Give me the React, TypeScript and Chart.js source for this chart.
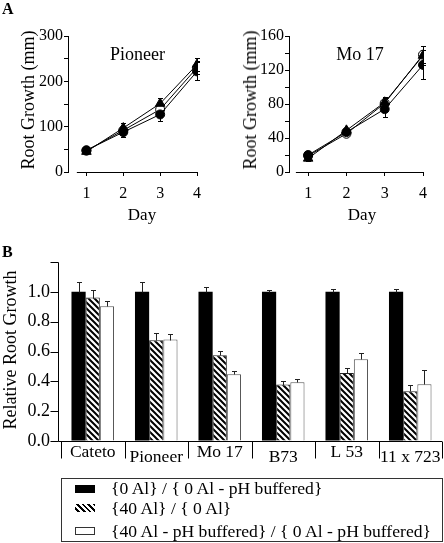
import React, { useEffect, useRef } from 'react';
import { Chart, registerables } from 'chart.js';

Chart.register(...registerables);

// ---------- data ----------
const DAYS = [1, 2, 3, 4];

const PIONEER_FILLED = [48, 88, 127, 222];
const PIONEER_FILLED_ERR = [5, 10, 15, 20];
const PIONEER_TRIANGLE = [45, 97, 151, 237];
const PIONEER_TRIANGLE_ERR = [4, 11, 12, 15];
const PIONEER_OPEN = [47, 92, 138, 230];
const PIONEER_OPEN_ERR = [4, 8, 10, 14];

const MO17_FILLED = [20, 47, 74, 126];
const MO17_FILLED_ERR = [3, 4, 9, 17];
const MO17_TRIANGLE = [16, 49, 82, 137];
const MO17_TRIANGLE_ERR = [3, 3, 6, 11];
const MO17_OPEN = [19, 45, 81, 138];
const MO17_OPEN_ERR = [3, 3, 6, 10];

const PIONEER_Y_MAX = 300;
const PIONEER_Y_STEP = 50;
const PIONEER_Y_LABEL_EVERY = 100;
const MO17_Y_MAX = 160;
const MO17_Y_STEP = 20;
const MO17_Y_LABEL_EVERY = 40;

const CULTIVARS = ['Cateto', 'Pioneer', 'Mo 17', 'B73', 'L 53', '11 x 723'];
const REL_0AL = [1, 1, 1, 1, 1, 1];
const REL_0AL_ERR = [0.067, 0.067, 0.034, 0.009, 0.022, 0.022];
const REL_40AL = [0.962, 0.676, 0.575, 0.378, 0.456, 0.333];
const REL_40AL_ERR = [0.05, 0.05, 0.03, 0.025, 0.034, 0.04];
const REL_40AL_PH = [0.904, 0.68, 0.447, 0.394, 0.548, 0.38];
const REL_40AL_PH_ERR = [0.035, 0.034, 0.02, 0.024, 0.042, 0.094];
const REL_Y_MAX = 1.2;
const REL_Y_STEP = 0.2;

const LEGEND_LABELS = [
  '{0 Al} / { 0 Al - pH buffered}',
  '{40 Al} / { 0 Al}',
  '{40 Al - pH buffered} / { 0 Al - pH buffered}',
];

const FONT = '"Liberation Serif", "Times New Roman", Times, serif';

// ---------- plugins ----------
function drawErrors(chart: any, opts: any) {
  const ctx = chart.ctx;
  const ys = chart.scales.y;
  const cap = opts.cap ?? 2.5;
  ctx.save();
  ctx.strokeStyle = opts.color || '#000';
  ctx.lineWidth = 1;
  chart.data.datasets.forEach((ds: any, i: number) => {
    const errs = ds.errors;
    if (!errs) return;
    const meta = chart.getDatasetMeta(i);
    meta.data.forEach((el: any, j: number) => {
      const raw = ds.data[j];
      const v = typeof raw === 'object' ? raw.y : raw;
      const e = errs[j];
      const x = Math.round(el.x) + 0.5;
      const top = Math.round(ys.getPixelForValue(v + e)) + 0.5;
      const bot = Math.round(ys.getPixelForValue(opts.upOnly ? v : v - e)) + 0.5;
      ctx.beginPath();
      ctx.moveTo(x, top);
      ctx.lineTo(x, bot);
      ctx.moveTo(x - cap, top);
      ctx.lineTo(x + cap, top);
      if (!opts.upOnly) {
        ctx.moveTo(x - cap, bot);
        ctx.lineTo(x + cap, bot);
      }
      ctx.stroke();
    });
  });
  ctx.restore();
}

const errorBarPlugin = {
  id: 'errorBars',
  beforeDatasetsDraw(chart: any, _a: any, opts: any) {
    if (opts && opts.layer === 'before') drawErrors(chart, opts);
  },
  afterDatasetsDraw(chart: any, _a: any, opts: any) {
    if (opts && opts.layer === 'after') drawErrors(chart, opts);
  },
};

const offsetXAxisPlugin = {
  id: 'offsetXAxis',
  afterDraw(chart: any, _a: any, opts: any) {
    const { ctx, chartArea } = chart;
    const xs = chart.scales.x;
    const yb = Math.round(chartArea.bottom) + 0.5;
    ctx.save();
    ctx.strokeStyle = '#000';
    ctx.lineWidth = 1;
    ctx.beginPath();
    ctx.moveTo(xs.getPixelForValue(opts.start), yb);
    ctx.lineTo(chartArea.right, yb);
    ctx.stroke();
    ctx.restore();
  },
};

const categoryFramePlugin = {
  id: 'categoryFrame',
  afterDraw(chart: any, _a: any, opts: any) {
    const { ctx, chartArea } = chart;
    const xs = chart.scales.x;
    const ys = chart.scales.y;
    const axisX = Math.round(chartArea.left - 3) + 0.5;
    const y0 = Math.round(ys.getPixelForValue(0)) + 0.5;
    const yTop = Math.round(ys.getPixelForValue(ys.max)) + 0.5;
    ctx.save();
    ctx.strokeStyle = '#000';
    ctx.lineWidth = 1;
    ctx.beginPath();
    ctx.moveTo(axisX, yTop);
    ctx.lineTo(axisX, y0);
    ys.ticks.forEach((t: any) => {
      const py = Math.round(ys.getPixelForValue(t.value)) + 0.5;
      ctx.moveTo(axisX - 8, py);
      ctx.lineTo(axisX, py);
    });
    ctx.moveTo(axisX, y0);
    ctx.lineTo(chartArea.right, y0);
    const labels = chart.data.labels;
    const n = labels.length;
    const w = (chartArea.right - chartArea.left) / n;
    for (let i = 0; i <= n; i++) {
      const px = Math.round(chartArea.left + i * w) + 0.5;
      ctx.moveTo(px, y0);
      ctx.lineTo(px, y0 + 17);
    }
    ctx.stroke();
    ctx.fillStyle = '#000';
    ctx.font = `${opts.size}px ${FONT}`;
    ctx.textAlign = 'center';
    ctx.textBaseline = 'middle';
    labels.forEach((lab: string, i: number) => {
      ctx.fillText(lab, xs.getPixelForValue(i), y0 + (i % 2 === 0 ? 10.5 : 16));
    });
    ctx.restore();
  },
};

function makeHatch(): any {
  const s = 6;
  const c = document.createElement('canvas');
  c.width = s;
  c.height = s;
  const g = c.getContext('2d')!;
  g.fillStyle = '#fff';
  g.fillRect(0, 0, s, s);
  g.strokeStyle = '#000';
  g.lineWidth = 2;
  g.beginPath();
  g.moveTo(-1, -1);
  g.lineTo(s + 1, s + 1);
  g.moveTo(-1, s - 1);
  g.lineTo(1, s + 1);
  g.moveTo(s - 1, -1);
  g.lineTo(s + 1, 1);
  g.stroke();
  return g.createPattern(c, 'repeat');
}

// ---------- configs ----------
function pts(arr: number[]) {
  return DAYS.map((d, i) => ({ x: d, y: arr[i] }));
}

function lineConfig(p: {
  filled: number[]; filledErr: number[];
  tri: number[]; triErr: number[];
  open: number[]; openErr: number[];
  yMax: number; yStep: number; labelEvery: number;
  yWidth: number; padRight: number; xStart: number;
}): any {
  const common = { borderColor: '#000', borderWidth: 1, pointBorderColor: '#000', pointBorderWidth: 1, tension: 0 };
  return {
    type: 'line',
    data: {
      datasets: [
        { ...common, data: pts(p.filled), errors: p.filledErr, pointStyle: 'circle', pointRadius: 4.5, pointBackgroundColor: '#000' },
        { ...common, data: pts(p.tri), errors: p.triErr, pointStyle: 'triangle', pointRadius: 5.5, pointBackgroundColor: '#000' },
        { ...common, data: pts(p.open), errors: p.openErr, pointStyle: 'circle', pointRadius: 4.5, pointBackgroundColor: '#fff' },
      ],
    },
    options: {
      responsive: false,
      animation: false,
      layout: { padding: { left: 0, top: 36, right: p.padRight, bottom: 3 } },
      plugins: {
        legend: { display: false },
        tooltip: { enabled: false },
        errorBars: { layer: 'before', upOnly: false, cap: 2.5, color: '#000' },
        offsetXAxis: { start: p.xStart },
      },
      scales: {
        x: {
          type: 'linear',
          min: 0.5,
          max: 4,
          afterBuildTicks: (s: any) => { s.ticks = DAYS.map((v) => ({ value: v })); },
          afterFit: (s: any) => { s.height = 30; },
          ticks: { padding: 8, color: '#000', font: { family: FONT, size: 16 }, autoSkip: false, maxRotation: 0 },
          grid: { drawOnChartArea: false, drawTicks: true, tickLength: 4, color: '#000' },
          border: { display: false },
        },
        y: {
          min: 0,
          max: p.yMax,
          afterFit: (s: any) => { s.width = p.yWidth; },
          ticks: {
            stepSize: p.yStep,
            autoSkip: false,
            padding: 1,
            color: '#000',
            font: { family: FONT, size: 16 },
            callback: (v: any) => (Math.round(v) % p.labelEvery === 0 ? String(v) : ''),
          },
          grid: { drawOnChartArea: false, drawTicks: true, tickLength: 4, color: '#000' },
          border: { display: true, color: '#000', width: 1 },
        },
      },
    },
    plugins: [errorBarPlugin, offsetXAxisPlugin],
  };
}

function barConfig(hatch: any): any {
  return {
    type: 'bar',
    data: {
      labels: CULTIVARS,
      datasets: [
        { label: LEGEND_LABELS[0], data: REL_0AL, errors: REL_0AL_ERR, backgroundColor: '#000', borderWidth: 0 },
        { label: LEGEND_LABELS[1], data: REL_40AL, errors: REL_40AL_ERR, backgroundColor: hatch, borderColor: '#222', borderWidth: 1 },
        { label: LEGEND_LABELS[2], data: REL_40AL_PH, errors: REL_40AL_PH_ERR, backgroundColor: '#fff', borderColor: '#555', borderWidth: 1 },
      ],
    },
    options: {
      responsive: false,
      animation: false,
      layout: { padding: { left: 0, top: 22, right: 2, bottom: 39 } },
      datasets: { bar: { barPercentage: 1, categoryPercentage: 0.67 } },
      plugins: {
        legend: { display: false },
        tooltip: { enabled: false },
        errorBars: { layer: 'after', upOnly: true, cap: 2.5, color: '#222' },
        categoryFrame: { size: 17.5 },
      },
      scales: {
        x: { type: 'category', display: false, offset: true },
        y: {
          min: 0,
          max: REL_Y_MAX,
          afterFit: (s: any) => { s.width = 61; },
          ticks: {
            stepSize: REL_Y_STEP,
            autoSkip: false,
            padding: 11,
            color: '#000',
            font: { family: FONT, size: 18 },
            callback: (v: any) => (v > 1.05 ? '' : Number(v).toFixed(1)),
          },
          grid: { display: true, drawOnChartArea: false, drawTicks: false },
          border: { display: false },
        },
      },
    },
    plugins: [errorBarPlugin, categoryFramePlugin],
  };
}

// ---------- components ----------
function Txt(props: { x: number; y: number; text: string; size?: number; bold?: boolean; rotate?: number; align?: 'center' | 'left' }) {
  const { x, y, text, size = 17, bold = false, rotate = 0, align = 'center' } = props;
  const tx = align === 'center' ? '-50%' : '0';
  return (
    <div
      style={{
        position: 'absolute',
        left: x,
        top: y,
        transform: `translate(${tx}, -50%) rotate(${rotate}deg)`,
        whiteSpace: 'nowrap',
        fontFamily: FONT,
        fontSize: size,
        fontWeight: bold ? 700 : 400,
        lineHeight: 1,
        color: '#000',
      }}
    >
      {text}
    </div>
  );
}

export default function App() {
  const a1 = useRef<HTMLCanvasElement>(null);
  const a2 = useRef<HTMLCanvasElement>(null);
  const b = useRef<HTMLCanvasElement>(null);

  useEffect(() => {
    const c1 = new Chart(a1.current!, lineConfig({
      filled: PIONEER_FILLED, filledErr: PIONEER_FILLED_ERR,
      tri: PIONEER_TRIANGLE, triErr: PIONEER_TRIANGLE_ERR,
      open: PIONEER_OPEN, openErr: PIONEER_OPEN_ERR,
      yMax: PIONEER_Y_MAX, yStep: PIONEER_Y_STEP, labelEvery: PIONEER_Y_LABEL_EVERY,
      yWidth: 68, padRight: 25, xStart: 0.74,
    }));
    const c2 = new Chart(a2.current!, lineConfig({
      filled: MO17_FILLED, filledErr: MO17_FILLED_ERR,
      tri: MO17_TRIANGLE, triErr: MO17_TRIANGLE_ERR,
      open: MO17_OPEN, openErr: MO17_OPEN_ERR,
      yMax: MO17_Y_MAX, yStep: MO17_Y_STEP, labelEvery: MO17_Y_LABEL_EVERY,
      yWidth: 67, padRight: 21, xStart: 0.68,
    }));
    const c3 = new Chart(b.current!, barConfig(makeHatch()));
    return () => {
      c1.destroy();
      c2.destroy();
      c3.destroy();
    };
  }, []);

  const swatchBase: any = { position: 'absolute', left: 13, width: 20, height: 8, boxSizing: 'border-box' };

  return (
    <div style={{ position: 'absolute', left: 0, top: 0, width: 444, height: 543, background: '#fff', overflow: 'hidden' }}>
      <canvas ref={a1} width={222} height={205} style={{ position: 'absolute', left: 0, top: 0 }} />
      <canvas ref={a2} width={222} height={205} style={{ position: 'absolute', left: 222, top: 0 }} />
      <canvas ref={b} width={444} height={240} style={{ position: 'absolute', left: 0, top: 240 }} />

      <Txt x={2} y={9} text="A" size={16} bold align="left" />
      <Txt x={2} y={252} text="B" size={16} bold align="left" />

      <Txt x={137.5} y={54} text="Pioneer" size={18} />
      <Txt x={360} y={54} text="Mo 17" size={18} />
      <Txt x={28} y={100} text="Root Growth (mm)" size={18} rotate={-90} />
      <Txt x={250} y={100} text="Root Growth (mm)" size={18} rotate={-90} />
      <Txt x={142} y={214} text="Day" size={17} />
      <Txt x={362} y={214} text="Day" size={17} />
      <Txt x={10} y={350} text="Relative Root Growth" size={18} rotate={-90} />

      <div style={{ position: 'absolute', left: 61, top: 478, width: 382, height: 64, border: '1px solid #333', boxSizing: 'border-box' }}>
        <div style={{ ...swatchBase, top: 6, background: '#000' }} />
        <div style={{ ...swatchBase, top: 25, background: 'repeating-linear-gradient(45deg, #fff 0px, #fff 2px, #000 2px, #000 4px)' }} />
        <div style={{ ...swatchBase, top: 48, background: '#fff', border: '1px solid #333' }} />
        <Txt x={49} y={9.5} text={LEGEND_LABELS[0]} size={17.6} align="left" />
        <Txt x={49} y={30} text={LEGEND_LABELS[1]} size={17.6} align="left" />
        <Txt x={49} y={52.5} text={LEGEND_LABELS[2]} size={17.6} align="left" />
      </div>
    </div>
  );
}
